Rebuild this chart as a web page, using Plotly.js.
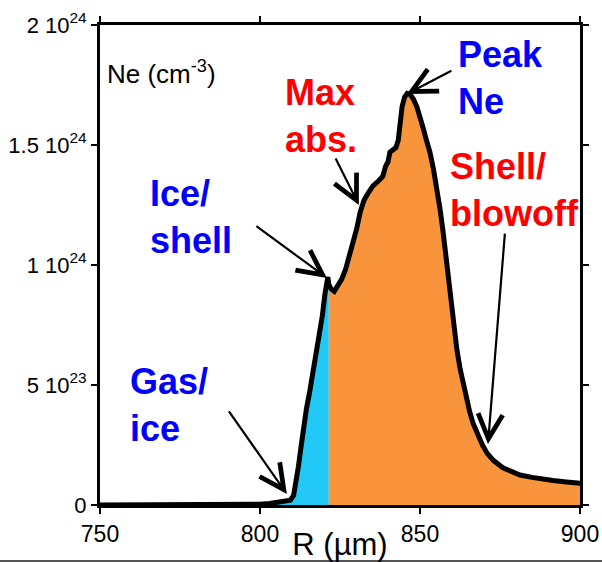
<!DOCTYPE html>
<html>
<head>
<meta charset="utf-8">
<script src="https://cdn.plot.ly/plotly-3.0.1.min.js"></script>
<style>
  html, body { margin: 0; padding: 0; background: #ffffff; }
  #chart { width: 602px; height: 562px; }
</style>
</head>
<body>
<div id="chart"></div>
<script>
// Electron density profile Ne(R) across the capsule
const radiusUm = [750, 760, 770, 780, 790, 800, 803, 806, 808, 809.5, 810.5, 811.2, 812, 812.8, 813.6,
  814.5, 815.5, 816.7, 818.2, 819.5, 820.3, 820.8, 821.2, 821.5, 822.2, 823.2, 824.3, 825.5, 826.7,
  827.8, 829, 830.2, 831.3, 832.5, 833.8, 835.3, 837, 838.4, 839.2, 840, 840.6, 841.5, 842.5, 843.2,
  843.8, 844.4, 845.2, 846, 847, 848, 849, 850, 851, 852, 853.1, 854.2, 855.3, 856.3, 857.2, 858,
  858.75, 859.5, 860.3, 861.5, 862.5, 863.4, 864.5, 865.5, 866.6, 868, 869.5, 871, 873, 875.9, 878.5,
  881.25, 885, 888, 891.6, 895, 900];
const neCm3 = [0, 0, 0.001e24, 0.002e24, 0.002e24, 0.003e24, 0.006e24, 0.012e24, 0.016e24, 0.02e24,
  0.04e24, 0.09e24, 0.16e24, 0.24e24, 0.32e24, 0.40e24, 0.47e24, 0.56e24, 0.68e24, 0.79e24, 0.88e24,
  0.93e24, 0.95e24, 0.92e24, 0.90e24, 0.89e24, 0.91e24, 0.94e24, 0.98e24, 1.03e24, 1.09e24, 1.15e24,
  1.22e24, 1.27e24, 1.30e24, 1.33e24, 1.35e24, 1.37e24, 1.41e24, 1.43e24, 1.47e24, 1.48e24, 1.49e24,
  1.52e24, 1.60e24, 1.66e24, 1.70e24, 1.715e24, 1.71e24, 1.69e24, 1.66e24, 1.62e24, 1.57e24, 1.52e24,
  1.47e24, 1.40e24, 1.32e24, 1.23e24, 1.14e24, 1.05e24, 0.96e24, 0.86e24, 0.75e24, 0.65e24, 0.57e24,
  0.51e24, 0.45e24, 0.39e24, 0.34e24, 0.29e24, 0.25e24, 0.215e24, 0.185e24, 0.155e24, 0.138e24,
  0.125e24, 0.115e24, 0.108e24, 0.102e24, 0.097e24, 0.091e24];

// Ice/shell interface: region inside it is shaded blue, outside orange
const iceShellBoundaryUm = 821.5;

const xTickVals = [750, 800, 850, 900];
const yTickVals = [0, 5e23, 1e24, 1.5e24, 2e24];
const yTickText = ['0', '5 10<sup>23</sup>', '1 10<sup>24</sup>', '1.5 10<sup>24</sup>', '2 10<sup>24</sup>'];

const innerIdx = radiusUm.map((r, i) => i).filter(i => radiusUm[i] <= iceShellBoundaryUm);
const outerIdx = radiusUm.map((r, i) => i).filter(i => radiusUm[i] >= iceShellBoundaryUm);

const FONT = 'Liberation Sans, Arial, sans-serif';

const traces = [
  {
    x: innerIdx.map(i => radiusUm[i]), y: innerIdx.map(i => neCm3[i]),
    type: 'scatter', mode: 'none', fill: 'tozeroy', fillcolor: '#22c8f6',
    hoverinfo: 'skip', showlegend: false
  },
  {
    x: outerIdx.map(i => radiusUm[i]), y: outerIdx.map(i => neCm3[i]),
    type: 'scatter', mode: 'none', fill: 'tozeroy', fillcolor: '#f8953c',
    hoverinfo: 'skip', showlegend: false
  },
  {
    x: radiusUm, y: neCm3, type: 'scatter', mode: 'lines',
    line: { color: '#000000', width: 5 }, showlegend: false
  }
];

function label(text, x, y, color, bold, size) {
  return {
    xref: 'paper', yref: 'paper', x: x, y: y, xanchor: 'left', yanchor: 'middle',
    text: text, showarrow: false, align: 'left',
    font: { family: FONT, size: size, color: color, weight: bold ? 'bold' : 'normal' }
  };
}

function arrow(x, y, ax, ay) {
  return {
    xref: 'x', yref: 'y', x: x, y: y, ax: ax, ay: ay, text: '',
    showarrow: true, arrowhead: 5, arrowsize: 2.2, arrowwidth: 2.2, arrowcolor: '#000000', standoff: 0
  };
}

const layout = {
  width: 602, height: 562,
  margin: { l: 100, r: 22, t: 25, b: 57 },
  paper_bgcolor: '#ffffff', plot_bgcolor: '#ffffff',
  font: { family: FONT, color: '#000000' },
  xaxis: {
    range: [750, 900], tickvals: xTickVals, ticktext: xTickVals.map(String),
    showgrid: false, zeroline: false, showline: true, linecolor: '#000000', linewidth: 3,
    mirror: 'ticks', ticks: 'outside', ticklen: 6, tickwidth: 2, tickcolor: '#000000',
    tickfont: { family: FONT, size: 23, color: '#000000' },
    title: { text: 'R (µm)', font: { family: FONT, size: 31, color: '#000000' }, standoff: 0 }
  },
  yaxis: {
    range: [0, 2e24], tickvals: yTickVals, ticktext: yTickText,
    showgrid: false, zeroline: false, showline: true, linecolor: '#000000', linewidth: 3,
    mirror: 'ticks', ticks: 'outside', ticklen: 6, tickwidth: 2, tickcolor: '#000000',
    tickfont: { family: FONT, size: 22, color: '#000000' }
  },
  shapes: [
    { type: 'line', xref: 'paper', yref: 'paper', x0: -0.21, x1: 1.05, y0: -0.1167, y1: -0.1167,
      line: { color: '#555555', width: 2 } }
  ],
  annotations: [
    label('Ne (cm<sup>-3</sup>)', 0.0104, 0.902, '#000000', false, 26),
    label('Peak<br>Ne', 0.7417, 0.8896, '#0000ff', true, 36),
    label('Max<br>abs.', 0.38125, 0.8104, '#ff0000', true, 36),
    label('Ice/<br>shell', 0.1, 0.6, '#0000ff', true, 36),
    label('Shell/<br>blowoff', 0.725, 0.65625, '#ff0000', true, 36),
    label('Gas/<br>ice', 0.0583, 0.2083, '#0000ff', true, 36),
    arrow(845.9, 1.7125e24, 46, -24),
    arrow(830.9, 1.25e24, -24, -48),
    arrow(820.9, 0.946e24, -72, -53),
    arrow(871.25, 0.254e24, 17, -212),
    arrow(808.4, 0.046e24, -59, -84)
  ]
};

Plotly.newPlot('chart', traces, layout, { displayModeBar: false, staticPlot: true });
</script>
</body>
</html>
